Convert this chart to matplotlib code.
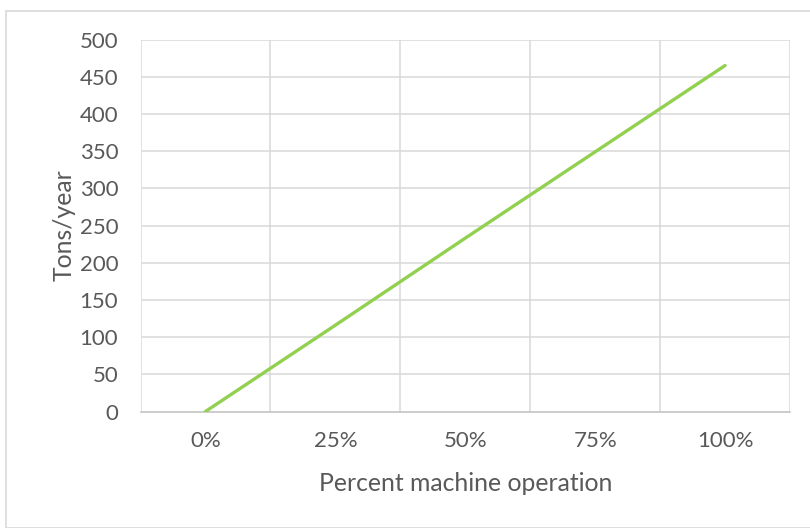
import matplotlib
matplotlib.use("Agg")
import matplotlib.pyplot as plt
from matplotlib.patches import Rectangle

# machine utilisation vs. annual output
categories = ["0%", "25%", "50%", "75%", "100%"]
tons_per_year = [0, 116, 233, 349, 465]
y_ticks = [0, 50, 100, 150, 200, 250, 300, 350, 400, 450, 500]

plt.rcParams['font.family'] = ['Lato', 'DejaVu Sans']

W, H = 810, 528
fig = plt.figure(figsize=(W / 100, H / 100), dpi=100)
ax = fig.add_axes([140.5 / W, 1 - 411.5 / H, (790 - 140.5) / W, (411.5 - 39.5) / H])

# outer chart border (runs off the right and bottom edge)
fig.patches.append(Rectangle((5.5 / W, 0), 1, 1 - 10.5 / H, transform=fig.transFigure,
                             fill=False, edgecolor="#d9d9d9", linewidth=1.2))

x = list(range(len(categories)))
ax.plot(x, tons_per_year, color="#92d050", linewidth=2.4, solid_capstyle="round", zorder=3)

ax.set_xlim(-0.5, len(categories) - 0.5)
ax.set_ylim(0, 500)
ax.set_yticks(y_ticks)
ax.set_xticks(x)
ax.set_xticklabels(categories)

# category boundaries as vertical gridlines
for b in range(len(categories) + 1):
    ax.axvline(b - 0.5, color="#d9d9d9", linewidth=1.1, zorder=1)
for t in y_ticks[1:]:
    ax.axhline(t, color="#d9d9d9", linewidth=1.1, zorder=1)

for s in ["top", "right", "left"]:
    ax.spines[s].set_visible(False)
ax.spines["bottom"].set_color("#bfbfbf")
ax.spines["bottom"].set_linewidth(1.1)

ax.tick_params(axis="both", length=0, labelsize=16, colors="#595959")
ax.tick_params(axis="x", pad=14)
ax.tick_params(axis="y", pad=16)

ax.set_xlabel("Percent machine operation", fontsize=17.8, color="#595959", labelpad=15)
ax.set_ylabel("Tons/year", fontsize=17.8, color="#595959", labelpad=3)

fig.savefig("out.png", dpi=100)
